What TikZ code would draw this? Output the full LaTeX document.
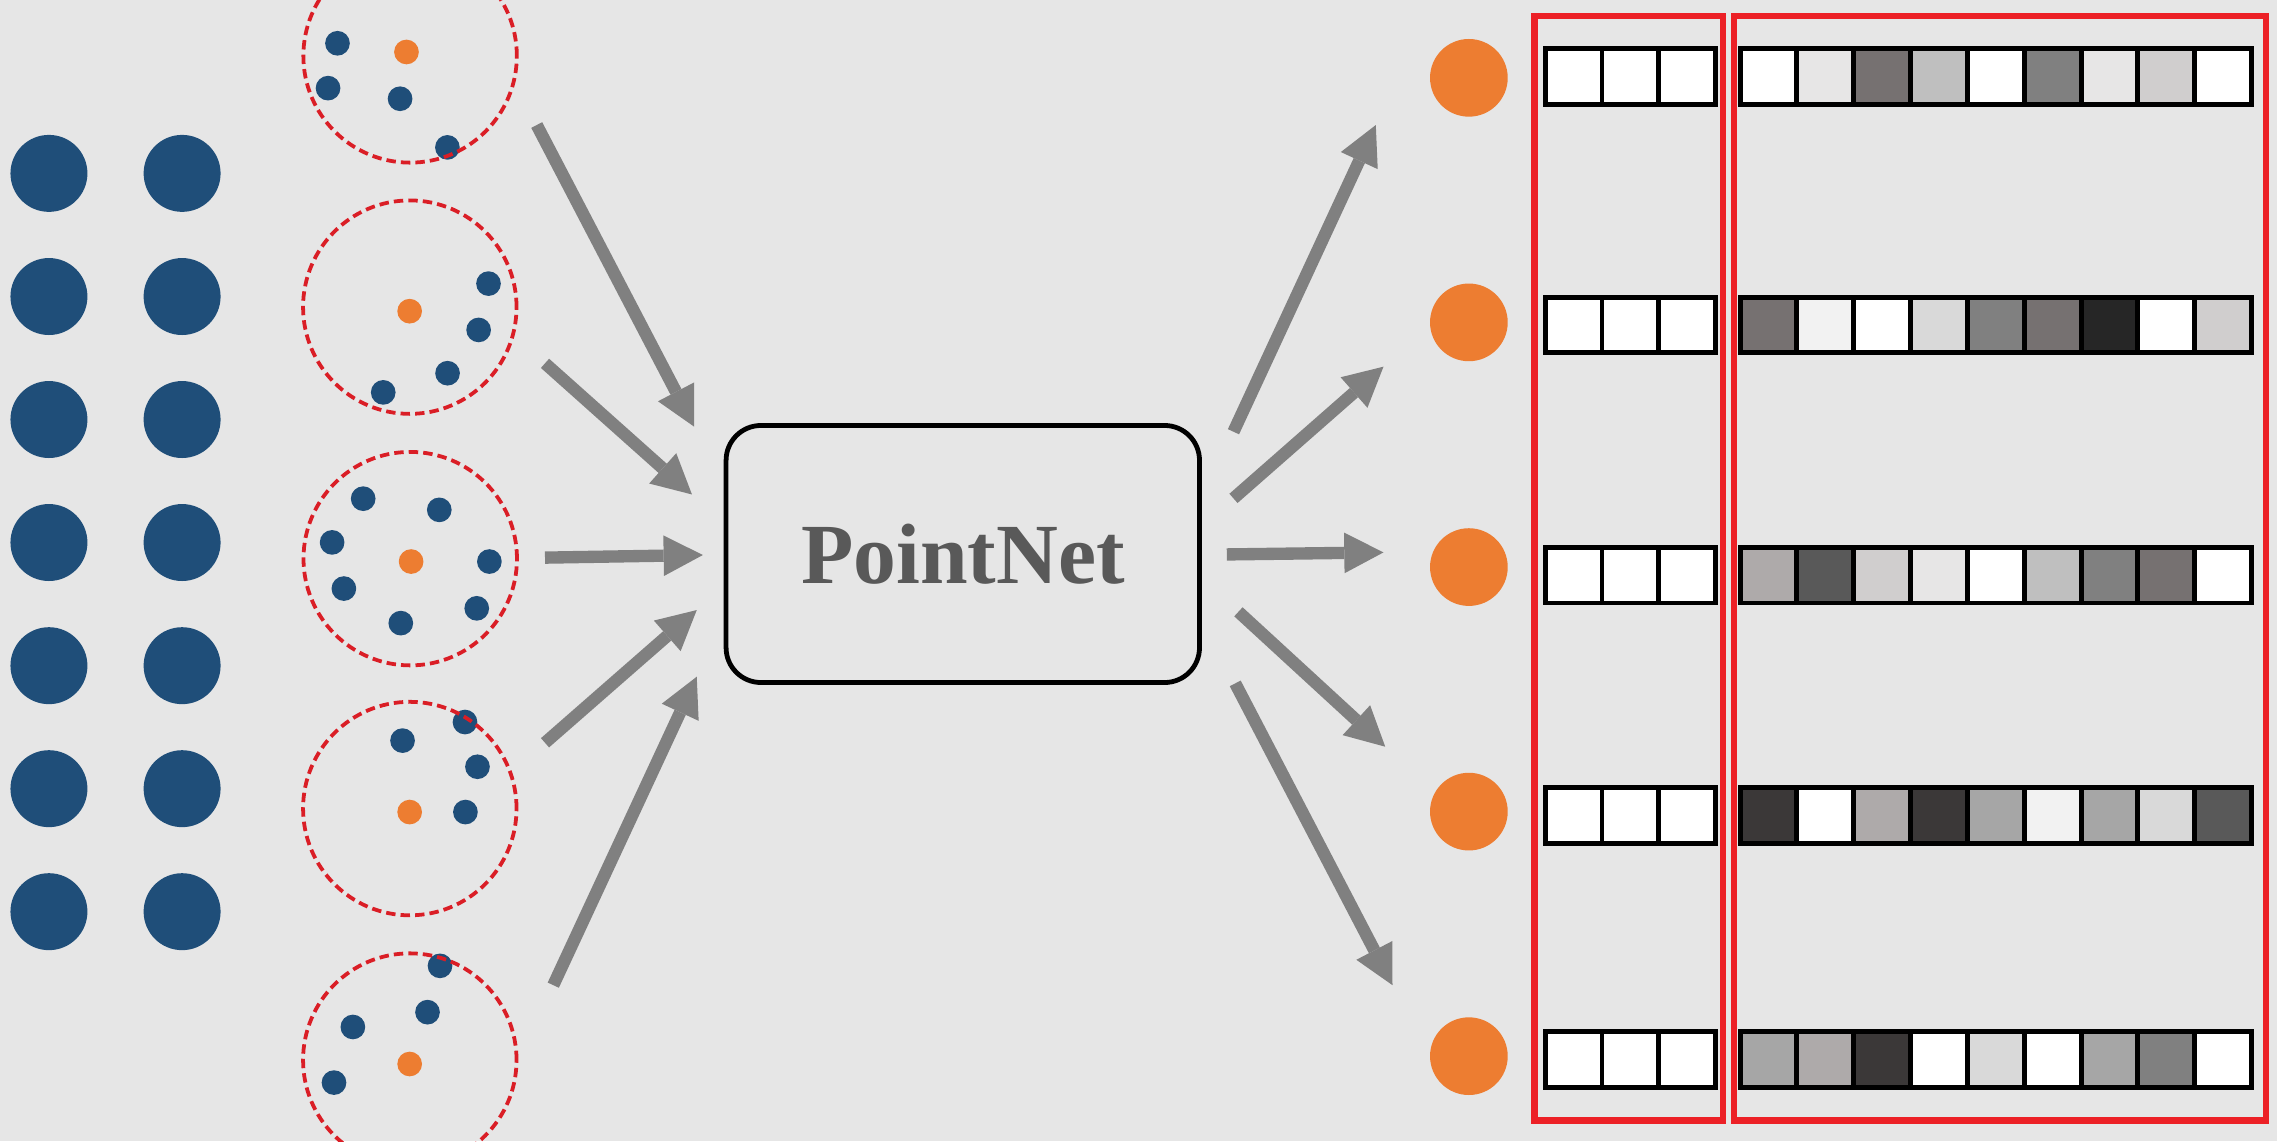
\documentclass[tikz,border=0pt]{standalone}
\usepackage{fontspec}
\newfontfamily\pnfont{Liberation Serif}
\usetikzlibrary{arrows.meta}
\definecolor{bg}{RGB}{230,230,230}
\definecolor{pblue}{HTML}{1F4E79}
\definecolor{porange}{HTML}{ED7D31}
\definecolor{dred}{RGB}{218,30,38}
\definecolor{bred}{RGB}{236,32,38}
\definecolor{agray}{HTML}{808080}
\definecolor{W}{HTML}{FFFFFF}
\definecolor{cE7}{HTML}{E7E6E6}
\definecolor{c767}{HTML}{767171}
\definecolor{cBF}{HTML}{BFBFBF}
\definecolor{c80}{HTML}{808080}
\definecolor{cF2}{HTML}{F2F2F2}
\definecolor{cD0}{HTML}{D0CECE}
\definecolor{cD9}{HTML}{D9D9D9}
\definecolor{c26}{HTML}{262626}
\definecolor{cAE}{HTML}{AEAAAA}
\definecolor{c59}{HTML}{595959}
\definecolor{c3B}{HTML}{3B3838}
\definecolor{cA6}{HTML}{A6A6A6}
\tikzset{
  bdot/.style={circle, fill=pblue, draw=none, minimum size=53pt, inner sep=0pt},
  sdot/.style={circle, fill=pblue, draw=none, minimum size=17pt, inner sep=0pt},
  cdot/.style={circle, fill=porange, draw=none, minimum size=17pt, inner sep=0pt},
  odot/.style={circle, fill=porange, draw=none, minimum size=53.5pt, inner sep=0pt},
  nbh/.style={circle, draw=dred, dash pattern=on 6.5pt off 3.5pt, line width=2.6pt, minimum size=147pt, inner sep=0pt},
  garrow/.style={draw=agray, line width=8.5pt, -{Triangle[length=27pt,width=28pt,line width=0pt]}},
  netbox/.style={draw=black, line width=3.3pt, rounded corners=24pt, minimum width=326pt, minimum height=177pt, inner sep=0pt, fill=bg, text=c59, font=\pnfont\bfseries\fontsize{59}{60}\selectfont},
  cell/.style={rectangle, draw=black, line width=3.4pt, minimum width=39.15pt, minimum height=38.5pt, inner sep=0pt, outer sep=0pt},
  redbox/.style={draw=bred, line width=4.5pt}
}
\begin{document}
\begin{tikzpicture}[x=1pt, y=-1pt]
\useasboundingbox (0,0) rectangle (1568,786);
\clip (0,0) rectangle (1568,786);
\fill[bg] (0,0) rectangle (1568,786);

% big input points
\foreach \yy [count=\r] in {119.4,204.2,288.9,373.6,458.4,543.1,627.8} {
  \node[bdot] (p\r a) at (33.7,\yy) {};
  \node[bdot] (p\r b) at (125.4,\yy) {};
}

% small points in neighbourhoods
\foreach \xx/\yy [count=\i] in {232.4/29.8, 225.9/60.7, 275.5/68, 308.1/101.5,
  336.4/195.3, 329.6/227.2, 308.2/257, 263.9/270.2,
  250.1/343.4, 302.5/351.1, 228.7/373.5, 337/386.7, 236.8/405.3, 276/429.1, 328.3/418.9,
  320.2/497.2, 277.2/510, 328.8/528, 320.5/559.2,
  303/665.1, 294.4/697, 243/707.2, 230/745.5} {
  \node[sdot] (d\i) at (\xx,\yy) {};
}
\foreach \xx/\yy [count=\i] in {279.9/35.8, 282.1/214.3, 283.1/386.7, 282.1/559.2, 282.1/732.7} {
  \node[cdot] (c\i) at (\xx,\yy) {};
}

% dashed neighbourhood circles
\foreach \xx/\yy [count=\i] in {282.4/38.5, 282.2/211.5, 282.5/384.7, 282.2/556.8, 282.2/730} {
  \node[nbh] (n\i) at (\xx,\yy) {};
}

% PointNet box
\node[netbox] (pn) at (663,381.5) {PointNet};

% arrow end points
\coordinate (l1s) at (369.6,86.1);  \coordinate (l1e) at (478,293.8);
\coordinate (l2s) at (375.3,250.2); \coordinate (l2e) at (476.5,340.5);
\coordinate (l3s) at (375.3,384);   \coordinate (l3e) at (484,382.2);
\coordinate (l4s) at (375.3,511.5); \coordinate (l4e) at (479.8,420.1);
\coordinate (l5s) at (381,678.4);   \coordinate (l5e) at (479.8,466);
\coordinate (r1s) at (849.4,297.3); \coordinate (r1e) at (947.4,86.1);
\coordinate (r2s) at (849.4,343.2); \coordinate (r2e) at (952.7,252.5);
\coordinate (r3s) at (844.8,381.8); \coordinate (r3e) at (952.7,380.4);
\coordinate (r4s) at (852.8,421.3); \coordinate (r4e) at (953.9,514.2);
\coordinate (r5s) at (850.6,470.6); \coordinate (r5e) at (958.9,678.4);
\foreach \k in {1,...,5} {
  \draw[garrow] (l\k s) -- (l\k e);
  \draw[garrow] (r\k s) -- (r\k e);
}

% output centroids
\foreach \yy [count=\i] in {53.6,222,390.5,558.9,727.3} {
  \node[odot] (o\i) at (1011.5,\yy) {};
}

% feature cells: coordinates part
\foreach \yy [count=\r] in {52.5,223.8,396,561.3,729.5} {
  \foreach \c in {1,2,3} {
    \node[cell, fill=white] (x\r-\c) at ({1064+(\c-0.5)*39.17},\yy) {};
  }
}
% feature cells: features part
\foreach \yy/\cols [count=\r] in {
  52.5/{W,cE7,c767,cBF,W,c80,cE7,cD0,W},
  223.8/{c767,cF2,W,cD9,c80,c767,c26,W,cD0},
  396/{cAE,c59,cD0,cE7,W,cBF,c80,c767,W},
  561.3/{c3B,W,cAE,c3B,cA6,cF2,cA6,cD9,c59},
  729.5/{cA6,cAE,c3B,W,cD9,W,cA6,c80,W}} {
  \foreach \col [count=\c] in \cols {
    \node[cell, fill=\col] (f\r-\c) at ({1198.3+(\c-0.5)*39.13},\yy) {};
  }
}

% red grouping boxes
\draw[redbox] (1056.8,11.1) rectangle (1186.5,771.6);
\draw[redbox] (1194.1,11.1) rectangle (1560.3,771.6);
\end{tikzpicture}
\end{document}
